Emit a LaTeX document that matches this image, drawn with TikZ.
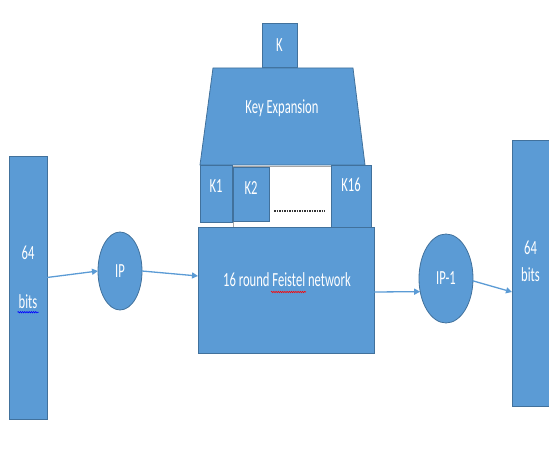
\documentclass[tikz,border=0pt]{standalone}
\usepackage{fontspec}
\setmainfont{Carlito}
\usetikzlibrary{shapes.geometric,arrows.meta,decorations.pathmorphing}
\definecolor{officeblue}{HTML}{5B9BD5}
\definecolor{officeedge}{HTML}{41719C}
\newcommand{\narrow}[1]{\scalebox{0.63}[1]{#1}}
\begin{document}
\begin{tikzpicture}[x=1pt, y=-1pt,
  blk/.style={fill=officeblue, draw=officeedge, line width=0.8pt, inner sep=0pt, outer sep=0pt},
  oval/.style={blk, ellipse},
  txt/.style={text=white, font=\fontsize{20}{23}\selectfont, inner sep=1pt},
  flow/.style={draw=officeblue, line width=1.3pt, -{Triangle[length=6pt,width=6pt]}},
  squig/.style={decorate, decoration={snake, amplitude=0.7pt, segment length=2.2pt}, line width=0.6pt}]

\useasboundingbox (0,0) rectangle (549,465);

% key schedule
\node[blk, minimum width=35pt, minimum height=44pt] (kin) at (279.5,45) {};
\node[txt] at (kin) {\narrow{K}};
\filldraw[fill=officeblue, draw=officeedge, line width=0.8pt]
  (213,68) -- (353,68) -- (365,165) -- (200,165) -- cycle;
\node[txt] (keyexp) at (282,108) {\narrow{Key Expansion}};

\node[draw=black!35, line width=0.6pt, fill=white, minimum width=99pt, minimum height=61pt, inner sep=0pt] (kbox) at (282.5,196.5) {};
\node[blk, minimum width=32pt, minimum height=57pt] (k1) at (216,193.5) {};
\node[txt] at (k1.north) [below=13pt] {\narrow{K1}};
\node[blk, minimum width=36pt, minimum height=54pt] (k2) at (251,194) {};
\node[txt] at (k2.north) [below=13pt] {\narrow{K2}};
\draw[line width=1.8pt, dash pattern=on 1.5pt off 1pt, black!80] (274,211) -- (325,211);
\node[blk, minimum width=40pt, minimum height=63pt] (k16) at (351,196.5) {};
\node[txt] at (k16.north) [below=12pt] {\narrow{K16}};

% data path
\node[blk, minimum width=38pt, minimum height=263pt] (lbar) at (28,287.5) {};
\node[txt] (l64) at (28,253) {\narrow{64}};
\node[txt] (lbits) at (28,302) {\narrow{bits}};
\draw[squig, blue] ([yshift=-2pt]lbits.south west) -- ([yshift=-2pt]lbits.south east);

\node[oval, minimum width=44pt, minimum height=78pt] (ip) at (120,271) {};
\node[txt] at (ip) {\narrow{IP}};

\node[blk, minimum width=176pt, minimum height=126pt] (feistel) at (286,290) {};
\node[txt] (ftext) at (287,280) {\narrow{16 round Feistel network}};
\draw[squig, red] (271,292) -- (306,292);

\node[oval, minimum width=54pt, minimum height=89pt] (ipinv) at (446,278.5) {};
\node[txt] at (ipinv) {\narrow{IP-1}};

\node[blk, minimum width=37pt, minimum height=266pt] (rbar) at (530.5,273) {};
\node[txt] (r64) at (530.5,248) {\narrow{64}};
\node[txt] (rbits) at (530.5,275) {\narrow{bits}};

\draw[flow] ([yshift=10pt]lbar.east) -- (ip.west);
\draw[flow] (ip.east) -- ([yshift=14pt]feistel.west);
\draw[flow] ([yshift=-2pt]feistel.east) -- (ipinv.207);
\draw[flow] (ipinv.-5) -- ([yshift=-19pt]rbar.west);

\end{tikzpicture}
\end{document}
